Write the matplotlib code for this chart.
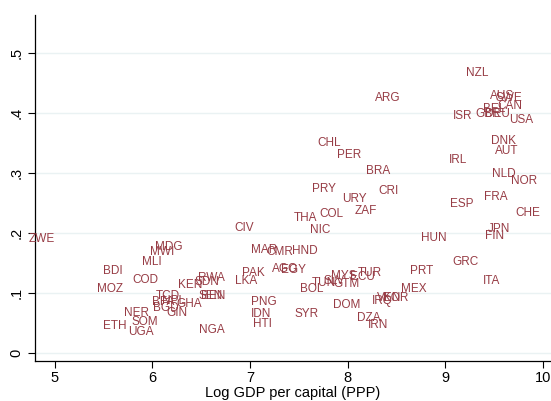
import matplotlib
matplotlib.use("Agg")
import matplotlib.pyplot as plt

countries = ["NZL","ARG","AUS","SWE","CAN","BEL","GBR","DEU","ISR","USA",
             "DNK","AUT","CHL","PER","IRL","BRA","NLD","NOR","PRY","CRI",
             "URY","ESP","FRA","CHE","JPN","FIN","HUN","GRC","PRT","ITA",
             "MEX","THA","COL","ZAF","NIC","CIV","MAR","CMR","HND","AGO",
             "EGY","PAK","LKA","BOL","TUN","SLV","MYS","GTM","ECU","TUR",
             "DOM","SYR","DZA","IRN","IRQ","VEN","KOR","MDG","MWI","MLI",
             "BDI","COD","MOZ","ZWE","NER","SOM","ETH","UGA","TCD","KEN",
             "BFA","NPL","GHA","BGD","GIN","RWA","SDN","SEN","BEN","PNG",
             "IDN","HTI","NGA"]
log_gdp = [9.32,8.41,9.58,9.65,9.66,9.50,9.44,9.53,9.18,9.78,
           9.59,9.63,7.81,8.01,9.13,8.31,9.60,9.80,7.76,8.42,
           8.07,9.17,9.52,9.84,9.55,9.50,8.88,9.21,8.76,9.47,
           8.68,7.57,7.83,8.18,7.72,6.94,7.14,7.30,7.56,7.36,
           7.45,7.03,6.96,7.63,7.76,7.86,7.96,7.99,8.15,8.23,
           7.99,7.58,8.22,8.31,8.35,8.42,8.49,6.17,6.10,6.00,
           5.60,5.93,5.57,4.87,5.84,5.92,5.62,5.88,6.16,6.39,
           6.11,6.22,6.38,6.14,6.25,6.61,6.56,6.60,6.62,7.14,
           7.11,7.13,6.61]
share = [.467,.425,.429,.425,.412,.407,.398,.398,.395,.388,
         .353,.336,.351,.330,.322,.303,.298,.287,.273,.270,
         .256,.249,.260,.233,.206,.194,.191,.151,.136,.119,
         .106,.225,.231,.236,.205,.208,.171,.168,.169,.139,
         .138,.133,.119,.106,.116,.119,.128,.114,.126,.133,
         .079,.064,.057,.046,.087,.091,.092,.176,.168,.151,
         .136,.121,.106,.189,.067,.051,.044,.034,.094,.113,
         .084,.087,.081,.074,.066,.124,.118,.094,.094,.084,
         .064,.047,.037]

xticks = [5, 6, 7, 8, 9, 10]
yticks = [0, .1, .2, .3, .4, .5]
yticklabels = ["0", ".1", ".2", ".3", ".4", ".5"]

plt.rcParams['font.family'] = ['Liberation Sans', 'DejaVu Sans']

fig = plt.figure(figsize=(5.51, 4.01), dpi=100)
ax = fig.add_axes([35/551, 40/401, 1 - 35/551, (361-15)/401])

label_color = '#973C45'
for c, x, y in zip(countries, log_gdp, share):
    ax.text(x, y, c, ha='center', va='center', fontsize=8.5, color=label_color)

ax.set_xlim(4.80, 10.08)
ax.set_ylim(-0.014, 0.564)
ax.set_xticks(xticks)
ax.set_yticks(yticks)
ax.set_yticklabels(yticklabels, rotation=90, va='center')
ax.tick_params(axis='both', labelsize=10.5, length=5, width=0.8, direction='out', colors='black')
ax.tick_params(axis='x', pad=2)
ax.grid(axis='y', color='#eaf2f3', linewidth=1.0)
ax.set_axisbelow(True)
ax.spines['top'].set_visible(False)
ax.spines['right'].set_visible(False)
ax.spines['left'].set_linewidth(0.9)
ax.spines['bottom'].set_linewidth(0.9)
ax.set_xlabel("Log GDP per capital (PPP)", fontsize=10.5, labelpad=1)

fig.savefig("out.png", dpi=100)
